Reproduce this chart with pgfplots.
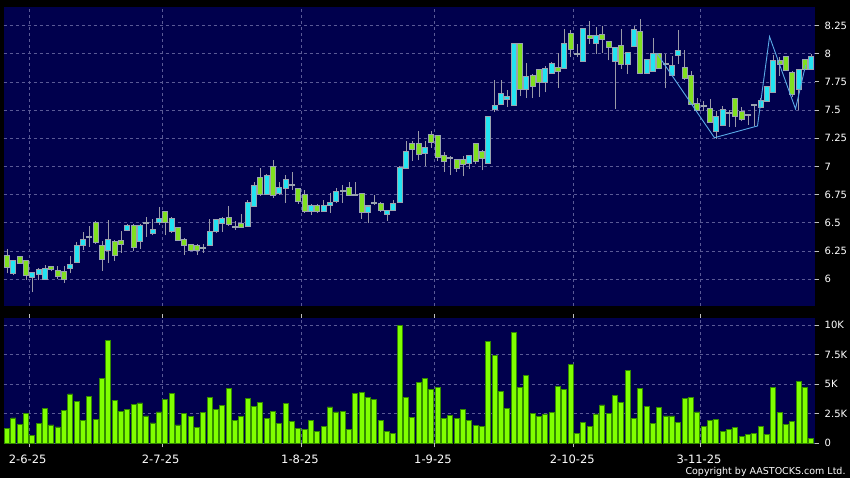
\documentclass[border=0pt]{standalone}
\usepackage{fontspec}
\setmainfont{DejaVu Sans}
\usepackage{pgfplots}
\usepackage{pgfplotstable}
\pgfplotsset{compat=1.18}

\definecolor{Navy}{HTML}{00004D}
\definecolor{GridC}{HTML}{5A5A96}
\definecolor{UpC}{HTML}{22E4F2}
\definecolor{DownC}{HTML}{80E020}
\definecolor{EdgeC}{HTML}{9AA4B0}
\definecolor{WickC}{HTML}{9A9AA8}
\definecolor{VolC}{HTML}{80FF00}
\definecolor{VolEdge}{HTML}{338A00}
\definecolor{ZigC}{HTML}{5AAAE6}
\definecolor{TickC}{HTML}{C0C0C0}

% i = trading day, O H L C = prices, V = volume in thousands
\pgfplotstableread{
i O H L C V
0 6.205 6.272 6.053 6.111 1.27
1 6.053 6.170 6.040 6.161 2.14
2 6.193 6.205 6.140 6.146 1.60
3 6.158 6.165 5.994 6.035 2.53
4 6.023 6.060 5.883 6.053 0.68
5 6.044 6.096 5.994 6.079 1.66
6 6.006 6.123 6.000 6.088 2.93
7 6.105 6.120 6.070 6.088 1.55
8 6.073 6.117 6.006 6.026 1.38
9 6.064 6.117 5.971 6.006 2.76
10 6.102 6.205 6.053 6.126 4.17
11 6.155 6.330 6.150 6.292 3.55
12 6.304 6.415 6.263 6.345 1.89
13 6.371 6.476 6.287 6.371 3.94
14 6.503 6.520 6.310 6.327 2.03
15 6.298 6.339 6.076 6.181 5.46
16 6.263 6.529 6.146 6.351 8.67
17 6.333 6.350 6.164 6.216 3.63
18 6.342 6.424 6.234 6.313 2.67
19 6.439 6.490 6.430 6.474 2.90
20 6.474 6.490 6.250 6.287 3.32
21 6.339 6.490 6.270 6.468 3.41
22 6.503 6.550 6.374 6.503 2.31
23 6.409 6.535 6.389 6.439 1.72
24 6.506 6.643 6.480 6.535 2.65
25 6.596 6.608 6.389 6.509 3.72
26 6.427 6.550 6.410 6.535 4.22
27 6.450 6.460 6.340 6.351 1.55
28 6.351 6.363 6.216 6.304 2.51
29 6.307 6.316 6.250 6.260 2.25
30 6.298 6.310 6.213 6.257 1.35
31 6.280 6.310 6.234 6.280 2.62
32 6.304 6.535 6.300 6.422 3.91
33 6.426 6.530 6.414 6.527 2.82
34 6.500 6.550 6.420 6.536 3.21
35 6.544 6.645 6.473 6.491 4.62
36 6.467 6.515 6.438 6.467 1.94
37 6.491 6.574 6.460 6.467 2.25
38 6.473 6.700 6.470 6.680 3.80
39 6.651 6.864 6.640 6.828 3.12
40 6.900 6.988 6.740 6.757 3.46
41 6.757 6.930 6.750 6.917 2.11
42 6.994 7.053 6.722 6.751 2.70
43 6.763 6.858 6.746 6.805 1.69
44 6.805 6.923 6.675 6.882 3.38
45 6.840 6.953 6.790 6.840 1.83
46 6.799 6.810 6.670 6.698 1.27
47 6.746 6.787 6.590 6.604 1.18
48 6.604 6.670 6.568 6.651 1.89
49 6.651 6.670 6.590 6.604 1.01
50 6.604 6.704 6.600 6.651 1.46
51 6.657 6.763 6.590 6.680 3.07
52 6.692 6.810 6.680 6.775 2.65
53 6.781 6.834 6.680 6.781 2.70
54 6.805 6.864 6.740 6.751 1.18
55 6.751 6.864 6.740 6.751 4.25
56 6.757 6.763 6.533 6.598 4.31
57 6.598 6.650 6.497 6.645 3.91
58 6.675 6.751 6.660 6.675 3.74
59 6.663 6.686 6.600 6.615 1.97
60 6.580 6.615 6.520 6.609 1.01
61 6.615 6.700 6.610 6.663 0.82
62 6.686 7.000 6.680 6.988 9.99
63 6.990 7.230 6.980 7.125 3.91
64 7.200 7.230 7.048 7.154 2.17
65 7.200 7.318 7.054 7.113 5.15
66 7.119 7.230 7.000 7.166 5.46
67 7.283 7.318 7.166 7.218 4.56
68 7.271 7.280 7.048 7.084 4.76
69 7.089 7.128 6.952 7.048 2.11
70 7.072 7.095 6.922 7.072 2.39
71 7.060 7.069 6.952 6.990 2.11
72 7.054 7.089 6.913 7.019 2.82
73 7.031 7.100 6.978 7.095 1.94
74 7.200 7.210 7.019 7.048 1.52
75 7.125 7.142 6.966 7.072 1.41
76 7.031 7.447 7.030 7.435 8.59
77 7.509 7.763 7.480 7.533 7.46
78 7.556 7.769 7.550 7.639 4.36
79 7.600 7.674 7.527 7.620 2.96
80 7.544 8.090 7.540 8.088 9.35
81 8.088 8.090 7.621 7.686 4.73
82 7.686 7.916 7.609 7.792 5.77
83 7.798 7.822 7.603 7.716 2.51
84 7.851 7.851 7.615 7.751 2.28
85 7.751 7.893 7.657 7.863 2.48
86 7.828 7.922 7.820 7.905 2.62
87 7.875 8.005 7.698 7.846 4.84
88 7.875 8.223 7.870 8.088 4.59
89 8.176 8.206 7.970 8.040 6.70
90 8.000 8.088 7.970 8.000 0.87
91 7.934 8.230 7.930 8.223 1.75
92 8.158 8.294 8.088 8.140 1.46
93 8.093 8.235 8.000 8.153 2.48
94 8.164 8.241 8.010 8.129 3.24
95 8.100 8.100 7.940 8.058 2.53
96 7.934 8.058 7.509 8.052 4.08
97 8.064 8.218 7.863 7.905 3.49
98 7.910 8.005 7.822 8.005 6.14
99 8.070 8.247 8.060 8.206 2.11
100 8.188 8.306 7.816 7.828 4.62
101 7.828 7.950 7.820 7.946 3.10
102 7.846 8.135 7.840 7.993 1.66
103 7.999 8.000 7.860 7.869 3.04
104 7.910 8.000 7.692 7.910 2.31
105 7.810 7.980 7.800 7.893 2.31
106 7.987 8.206 7.910 8.028 1.77
107 7.875 8.030 7.770 7.780 3.77
108 7.798 7.850 7.550 7.556 3.91
109 7.556 7.610 7.490 7.503 2.65
110 7.534 7.584 7.495 7.534 1.41
111 7.507 7.602 7.390 7.395 1.89
112 7.318 7.495 7.247 7.436 2.00
113 7.365 7.540 7.360 7.501 0.96
114 7.470 7.500 7.350 7.470 1.18
115 7.599 7.600 7.350 7.448 1.35
116 7.484 7.525 7.400 7.419 0.56
117 7.455 7.466 7.370 7.455 0.73
118 7.543 7.550 7.360 7.543 0.84
119 7.525 7.608 7.520 7.584 1.46
120 7.584 7.710 7.580 7.703 0.73
121 7.661 7.990 7.660 7.934 4.70
122 7.934 7.970 7.800 7.910 2.62
123 7.969 7.980 7.850 7.857 1.60
124 7.833 7.850 7.615 7.643 1.83
125 7.691 7.865 7.500 7.857 5.21
126 7.940 7.957 7.860 7.868 4.76
127 7.868 7.999 7.860 7.969 0.42
}\candles

\pgfplotsset{
  panel/.style={
    at={(3.5pt,#1)}, anchor=south west,
    scale only axis, width=811.5pt,
    xmin=-0.553, xmax=127.58,
    axis background/.style={fill=Navy},
    axis line style={draw=none},
    grid=major,
    grid style={GridC, line width=0.7pt, dash pattern=on 3pt off 3pt},
    xtick={3.5,24.5,46.5,67.5,89.5,109.5},
    ytick pos=right, yticklabel pos=right,
    tick align=outside,
    y tick style={TickC, line width=0.8pt},
    major tick length=4pt,
    yticklabel style={anchor=west, inner sep=0pt, xshift=5.5pt,
      font=\fontsize{10}{10}\selectfont, text=white},
    clip=true,
  },
  candle/.style 2 args={draw=none, mark=none, forget plot,
    error bars/.cd, y dir=both, y explicit, error mark=none,
    error bar style={solid, draw=#1, line width=#2}},
}

\begin{document}
\begin{tikzpicture}[x=1pt,y=1pt]
\fill[black] (0pt,0pt) rectangle (850pt,478pt);
\useasboundingbox (0pt,0pt) rectangle (850pt,478pt);

% price panel
\begin{axis}[
  panel=172pt,
  height=299pt,
  ymin=5.763, ymax=8.414,
  xticklabels={},
  x tick style={draw=none},
  ytick={6,6.25,6.5,6.75,7,7.25,7.5,7.75,8,8.25},
  yticklabels={6,6.25,6.5,6.75,7,7.25,7.5,7.75,8,8.25},
]
% wicks
\addplot[draw=none, mark=none, forget plot,
  error bars/.cd, y dir=plus, y explicit, error mark=none,
  error bar style={solid, draw=WickC, line width=1pt}]
  table[x=i, y=L, y error plus expr={\thisrow{H}-\thisrow{L}}] {\candles};
% body outline (also the doji bars)
\addplot[candle={EdgeC}{6pt}]
  table[x=i, y expr={(\thisrow{O}+\thisrow{C})/2},
        y error expr={abs(\thisrow{C}-\thisrow{O})/2+0.0089}] {\candles};
% up bodies
\addplot[candle={UpC}{4pt}]
  table[x=i, y expr={\thisrow{C}>\thisrow{O} ? (\thisrow{O}+\thisrow{C})/2 : -10},
        y error expr={abs(\thisrow{C}-\thisrow{O})/2}] {\candles};
% down bodies
\addplot[candle={DownC}{4pt}]
  table[x=i, y expr={\thisrow{C}<\thisrow{O} ? (\thisrow{O}+\thisrow{C})/2 : -10},
        y error expr={abs(\thisrow{C}-\thisrow{O})/2}] {\candles};
% swing line
\addplot[ZigC, line width=0.9pt, mark=none] coordinates {
  (102.6,8.004) (111.7,7.255) (118.5,7.359) (120.4,8.151) (124.5,7.51) (126.1,7.90)
};
\end{axis}

% volume panel
\begin{axis}[
  panel=34.7pt,
  height=125pt,
  ymin=0, ymax=10.57,
  ybar, bar width=0.8,
  x tick style={TickC, line width=0.8pt},
  major tick length=4pt,
  xticklabels={2-6-25,2-7-25,1-8-25,1-9-25,2-10-25,3-11-25},
  xticklabel style={anchor=base, yshift=-16.5pt, xshift=-1.5pt,
    font=\fontsize{11.5}{12}\selectfont, text=white},
  ytick={0,2.5,5,7.5,10},
  yticklabels={0,2.5K,5K,7.5K,10K},
]
\addplot[fill=VolC, draw=VolEdge, line width=0.9pt] table[x=i, y=V] {\candles};
\end{axis}

\node[anchor=base east, inner sep=0pt, text=white,
  font=\fontsize{9.5}{10}\selectfont] at (845.7pt,3.3pt) {Copyright by AASTOCKS.com Ltd.};
\end{tikzpicture}
\end{document}
